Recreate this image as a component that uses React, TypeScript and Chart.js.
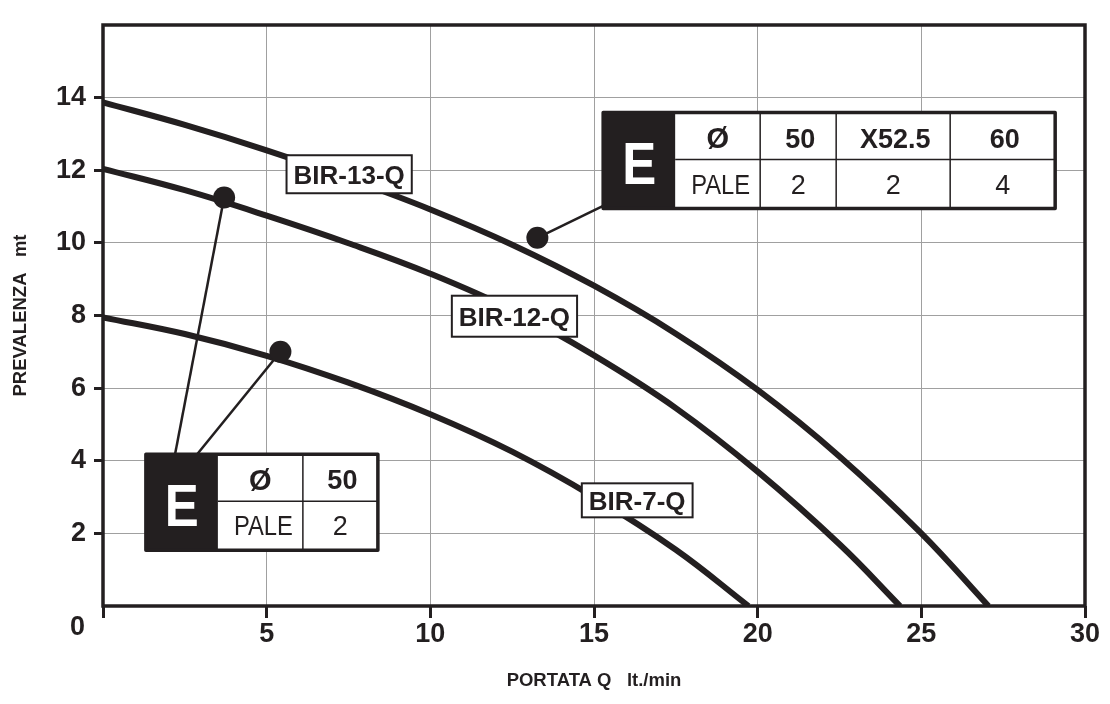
import React, { useEffect, useRef } from 'react';
import { Chart, registerables } from 'chart.js';

Chart.register(...registerables);

// ---- axes ----
const X_MIN = 0;
const X_MAX = 30;
const X_STEP = 5;
const Y_MIN = 0;
const Y_MAX = 16;
const Y_STEP = 2;
const X_TITLE = 'PORTATA Q   lt./min';
const Y_TITLE = 'PREVALENZA   mt';
const ORIGIN_LABEL = '0';

// ---- curves (portata lt/min -> prevalenza m) ----
const bir13Q = [0, 2.5, 5, 7.5, 10, 12.5, 15, 17.5, 20, 22.5, 25, 27.05];
const bir13H = [13.87, 13.25, 12.55, 11.77, 10.92, 9.95, 8.82, 7.5, 5.95, 4.12, 2.0, 0];

const bir12Q = [0, 2.5, 5, 7.5, 10, 12.5, 15, 17.5, 20, 22.5, 24.35];
const bir12H = [12.04, 11.45, 10.75, 9.99, 9.15, 8.15, 6.9, 5.45, 3.7, 1.7, 0];

const bir7Q = [0, 2.5, 5, 7.5, 10, 12.5, 15, 17.5, 19.72];
const bir7H = [7.95, 7.49, 6.89, 6.15, 5.28, 4.25, 3.0, 1.55, 0];

const curveNames = ['BIR-13-Q', 'BIR-12-Q', 'BIR-7-Q'];
const curveLabelQ = [7.52, 12.57, 16.32];
const curveLabelH = [11.89, 7.98, 2.91];

// ---- marker dots and leader lines ----
const dotQ = [3.7, 5.42, 13.27];
const dotH = [11.25, 7.0, 10.14];
const leaderEndQ = [2.2, 2.87, 15.28];
const leaderEndH = [4.17, 4.17, 11.02];

// ---- tables ----
const tableLetter = 'E';
const rowLabelDiam = 'Ø';
const rowLabelBlades = 'PALE';
const tableTopDiam = ['50', 'X52.5', '60'];
const tableTopBlades = ['2', '2', '4'];
const tableBottomDiam = ['50'];
const tableBottomBlades = ['2'];
const tableTopAnchor = { q: 15.28, h: 13.59 };
const tableBottomAnchor = { q: 1.31, h: 4.18 };

// ---- styles ----
const INK = '#231f20';
const GRID = '#a0a0a0';
const FAM = '"Liberation Sans", Arial, sans-serif';

const zip = (xs: number[], ys: number[]) => xs.map((x, i) => ({ x, y: ys[i] }));

function capText(ctx: CanvasRenderingContext2D, text: string, cx: number, cy: number, size: number, weight: string, color: string, sx = 1) {
  ctx.save();
  ctx.font = `${weight} ${size}px ${FAM}`;
  ctx.fillStyle = color;
  ctx.textAlign = 'center';
  ctx.textBaseline = 'alphabetic';
  ctx.translate(cx, cy + size * 0.358);
  ctx.scale(sx, 1);
  ctx.fillText(text, 0, 0);
  ctx.restore();
}

function drawTable(
  ctx: CanvasRenderingContext2D,
  x0: number,
  y0: number,
  eW: number,
  colW: number[],
  rowH: number[],
  row1: string[],
  row2: string[]
) {
  const W = eW + colW.reduce((a, b) => a + b, 0);
  const H = rowH[0] + rowH[1];
  ctx.save();
  ctx.fillStyle = '#ffffff';
  ctx.fillRect(x0, y0, W, H);
  ctx.fillStyle = INK;
  ctx.fillRect(x0, y0, eW, H);
  ctx.strokeStyle = INK;
  ctx.lineWidth = 1.5;
  let cx = x0 + eW;
  ctx.beginPath();
  for (let i = 0; i < colW.length - 1; i++) {
    cx += colW[i];
    ctx.moveTo(cx, y0);
    ctx.lineTo(cx, y0 + H);
  }
  ctx.moveTo(x0 + eW, y0 + rowH[0]);
  ctx.lineTo(x0 + W, y0 + rowH[0]);
  ctx.stroke();
  ctx.lineWidth = 3.5;
  ctx.lineJoin = 'round';
  ctx.strokeRect(x0, y0, W, H);
  capText(ctx, tableLetter, x0 + eW / 2, y0 + H / 2 + 2, 60, 'bold', '#ffffff', 0.85);
  let left = x0 + eW;
  for (let i = 0; i < colW.length; i++) {
    const c = left + colW[i] / 2;
    const isHeader = i === 0;
    capText(ctx, row1[i], c + (isHeader ? 0 : 2), y0 + rowH[0] / 2 + 2, isHeader ? 29 : 27, 'bold', INK);
    capText(ctx, row2[i], c + (isHeader ? 3 : 0), y0 + rowH[0] + rowH[1] / 2, 27, 'normal', INK, isHeader ? 0.88 : 1);
    left += colW[i];
  }
  ctx.restore();
}

const framePlugin = {
  id: 'frame',
  beforeDatasetsDraw(chart: any) {
    const { ctx, chartArea } = chart;
    const { left, top, right, bottom } = chartArea;
    ctx.save();
    ctx.strokeStyle = INK;
    ctx.lineWidth = 3.5;
    ctx.strokeRect(left, top, right - left, bottom - top);
    ctx.restore();
  },
};

const annotPlugin = {
  id: 'annot',
  afterDatasetsDraw(chart: any) {
    const { ctx, chartArea } = chart;
    const xs = chart.scales.x;
    const ys = chart.scales.y;
    ctx.save();
    // curve labels
    const boxH = [38, 41, 34];
    curveNames.forEach((name, i) => {
      const cx = xs.getPixelForValue(curveLabelQ[i]);
      const cy = ys.getPixelForValue(curveLabelH[i]);
      ctx.font = `bold 26px ${FAM}`;
      const w = ctx.measureText(name).width + 14;
      const h = boxH[i];
      ctx.fillStyle = '#ffffff';
      ctx.fillRect(cx - w / 2, cy - h / 2, w, h);
      ctx.strokeStyle = INK;
      ctx.lineWidth = 2;
      ctx.strokeRect(cx - w / 2, cy - h / 2, w, h);
      capText(ctx, name, cx, cy, 26, 'bold', INK);
    });
    // tables
    drawTable(
      ctx,
      xs.getPixelForValue(tableTopAnchor.q),
      ys.getPixelForValue(tableTopAnchor.h),
      72,
      [85, 76, 114, 105],
      [47, 49],
      [rowLabelDiam, ...tableTopDiam],
      [rowLabelBlades, ...tableTopBlades]
    );
    drawTable(
      ctx,
      xs.getPixelForValue(tableBottomAnchor.q),
      ys.getPixelForValue(tableBottomAnchor.h),
      72,
      [85, 75],
      [47, 49],
      [rowLabelDiam, ...tableBottomDiam],
      [rowLabelBlades, ...tableBottomBlades]
    );
    // origin label
    capText(ctx, ORIGIN_LABEL, chartArea.left - 25.5, chartArea.bottom + 19, 27, 'bold', INK);
    ctx.restore();
  },
};

export default function App() {
  const ref = useRef<HTMLCanvasElement | null>(null);

  useEffect(() => {
    if (!ref.current) return;
    const tickFont = { family: FAM, size: 27, weight: 'bold' as const };
    const hideEdge = (min: number, max: number) => (c: any) => {
      const v = c.tick ? c.tick.value : null;
      return v === min || v === max ? 'rgba(0,0,0,0)' : GRID;
    };
    const curveStyle = {
      borderColor: INK,
      borderWidth: 6,
      pointRadius: 0,
      fill: false,
      tension: 0.4,
      borderCapStyle: 'butt' as const,
      borderJoinStyle: 'round' as const,
    };
    const chart = new Chart(ref.current, {
      type: 'line',
      data: {
        datasets: [
          {
            label: 'dots',
            data: zip(dotQ, dotH),
            showLine: false,
            pointRadius: 11,
            pointBackgroundColor: INK,
            pointBorderWidth: 0,
            borderColor: INK,
          } as any,
          ...dotQ.map((q, i) => ({
            label: 'leader' + i,
            data: [
              { x: q, y: dotH[i] },
              { x: leaderEndQ[i], y: leaderEndH[i] },
            ],
            borderColor: INK,
            borderWidth: 2.5,
            pointRadius: 0,
            tension: 0,
            fill: false,
          })),
          { label: curveNames[0], data: zip(bir13Q, bir13H), ...curveStyle },
          { label: curveNames[1], data: zip(bir12Q, bir12H), ...curveStyle },
          { label: curveNames[2], data: zip(bir7Q, bir7H), ...curveStyle },
        ],
      },
      options: {
        responsive: false,
        animation: false,
        events: [],
        layout: { padding: { left: 0, top: 25, right: 25, bottom: 0 } },
        plugins: { legend: { display: false }, tooltip: { enabled: false } },
        scales: {
          x: {
            type: 'linear',
            min: X_MIN,
            max: X_MAX,
            ticks: {
              stepSize: X_STEP,
              autoSkip: false,
              maxRotation: 0,
              padding: 0,
              color: INK,
              font: tickFont,
              callback: (v: any) => (Number(v) === 0 ? '' : String(v)),
            },
            grid: {
              color: hideEdge(X_MIN, X_MAX),
              lineWidth: 1,
              tickColor: INK,
              tickWidth: 3,
              tickLength: 12,
            },
            border: { display: false },
            title: {
              display: true,
              text: X_TITLE,
              color: INK,
              font: { family: FAM, size: 18.5, weight: 'bold' },
              padding: { top: 0, bottom: 12 },
            },
            afterFit: (s: any) => {
              s.height = 98;
              s.paddingLeft = 0;
              s.paddingRight = 0;
            },
          },
          y: {
            type: 'linear',
            min: Y_MIN,
            max: Y_MAX,
            ticks: {
              stepSize: Y_STEP,
              autoSkip: false,
              padding: 8,
              color: INK,
              font: tickFont,
              callback: (v: any) => (Number(v) === Y_MIN || Number(v) === Y_MAX ? '' : String(v)),
            },
            grid: {
              color: hideEdge(Y_MIN, Y_MAX),
              lineWidth: 1,
              tickColor: (c: any) => {
                const v = c.tick ? c.tick.value : null;
                return v === Y_MIN || v === Y_MAX ? 'rgba(0,0,0,0)' : INK;
              },
              tickWidth: 3,
              tickLength: 9,
            },
            border: { display: false },
            title: {
              display: true,
              text: Y_TITLE,
              color: INK,
              font: { family: FAM, size: 18.5, weight: 'bold' },
              padding: { top: 10, bottom: 0 },
            },
            afterFit: (s: any) => {
              s.width = 103;
              s.paddingTop = 0;
              s.paddingBottom = 0;
            },
          },
        },
      } as any,
      plugins: [framePlugin, annotPlugin],
    });
    return () => chart.destroy();
  }, []);

  return (
    <div style={{ position: 'fixed', left: 0, top: 0, width: 1110, height: 704, background: '#ffffff' }}>
      <canvas ref={ref} width={1110} height={704} style={{ display: 'block' }} />
    </div>
  );
}
